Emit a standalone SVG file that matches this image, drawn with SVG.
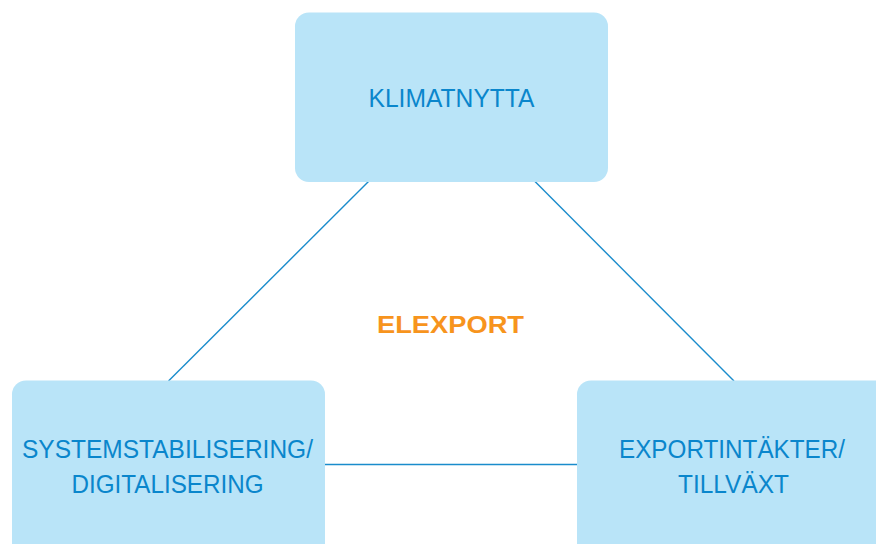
<svg xmlns="http://www.w3.org/2000/svg" width="876" height="544" viewBox="0 0 876 544">
  <style>
    .box { fill: #b9e4f8; }
    .label { font-family: "Liberation Sans", Arial, sans-serif; font-size: 25.5px; fill: #0a86cc; text-anchor: middle; }
    .center { font-family: "Liberation Sans", Arial, sans-serif; font-size: 24px; font-weight: bold; fill: #f7941d; text-anchor: middle; }
    .link { stroke: #1a8ccc; stroke-width: 1.4; fill: none; }
  </style>
  <rect width="876" height="544" fill="#ffffff"/>

  <!-- connectors -->
  <g id="connectors">
    <line class="link" x1="368.5" y1="181.5" x2="168.5" y2="381"/>
    <line class="link" x1="535" y1="181.5" x2="734" y2="381"/>
    <line class="link" x1="325" y1="464.5" x2="577" y2="464.5"/>
  </g>

  <g id="klimatnytta">
    <rect class="box" x="295" y="12.5" width="313" height="169.5" rx="14"/>
    <text class="label" x="451.5" y="106.5" textLength="166" lengthAdjust="spacingAndGlyphs">KLIMATNYTTA</text>
  </g>

  <g id="systemstabilisering">
    <rect class="box" x="12" y="380.5" width="313" height="180" rx="14"/>
    <text class="label" x="167.5" y="458" textLength="291" lengthAdjust="spacingAndGlyphs">SYSTEMSTABILISERING/</text>
    <text class="label" x="167.5" y="493" textLength="192" lengthAdjust="spacingAndGlyphs">DIGITALISERING</text>
  </g>

  <g id="exportintakter">
    <rect class="box" x="577" y="380.5" width="313" height="180" rx="14"/>
    <text class="label" x="732" y="458" textLength="226" lengthAdjust="spacingAndGlyphs">EXPORTINTÄKTER/</text>
    <text class="label" x="733.5" y="493" textLength="111" lengthAdjust="spacingAndGlyphs">TILLVÄXT</text>
  </g>

  <g id="elexport">
    <text class="center" x="450.5" y="332.5" textLength="147" lengthAdjust="spacingAndGlyphs">ELEXPORT</text>
  </g>
</svg>
